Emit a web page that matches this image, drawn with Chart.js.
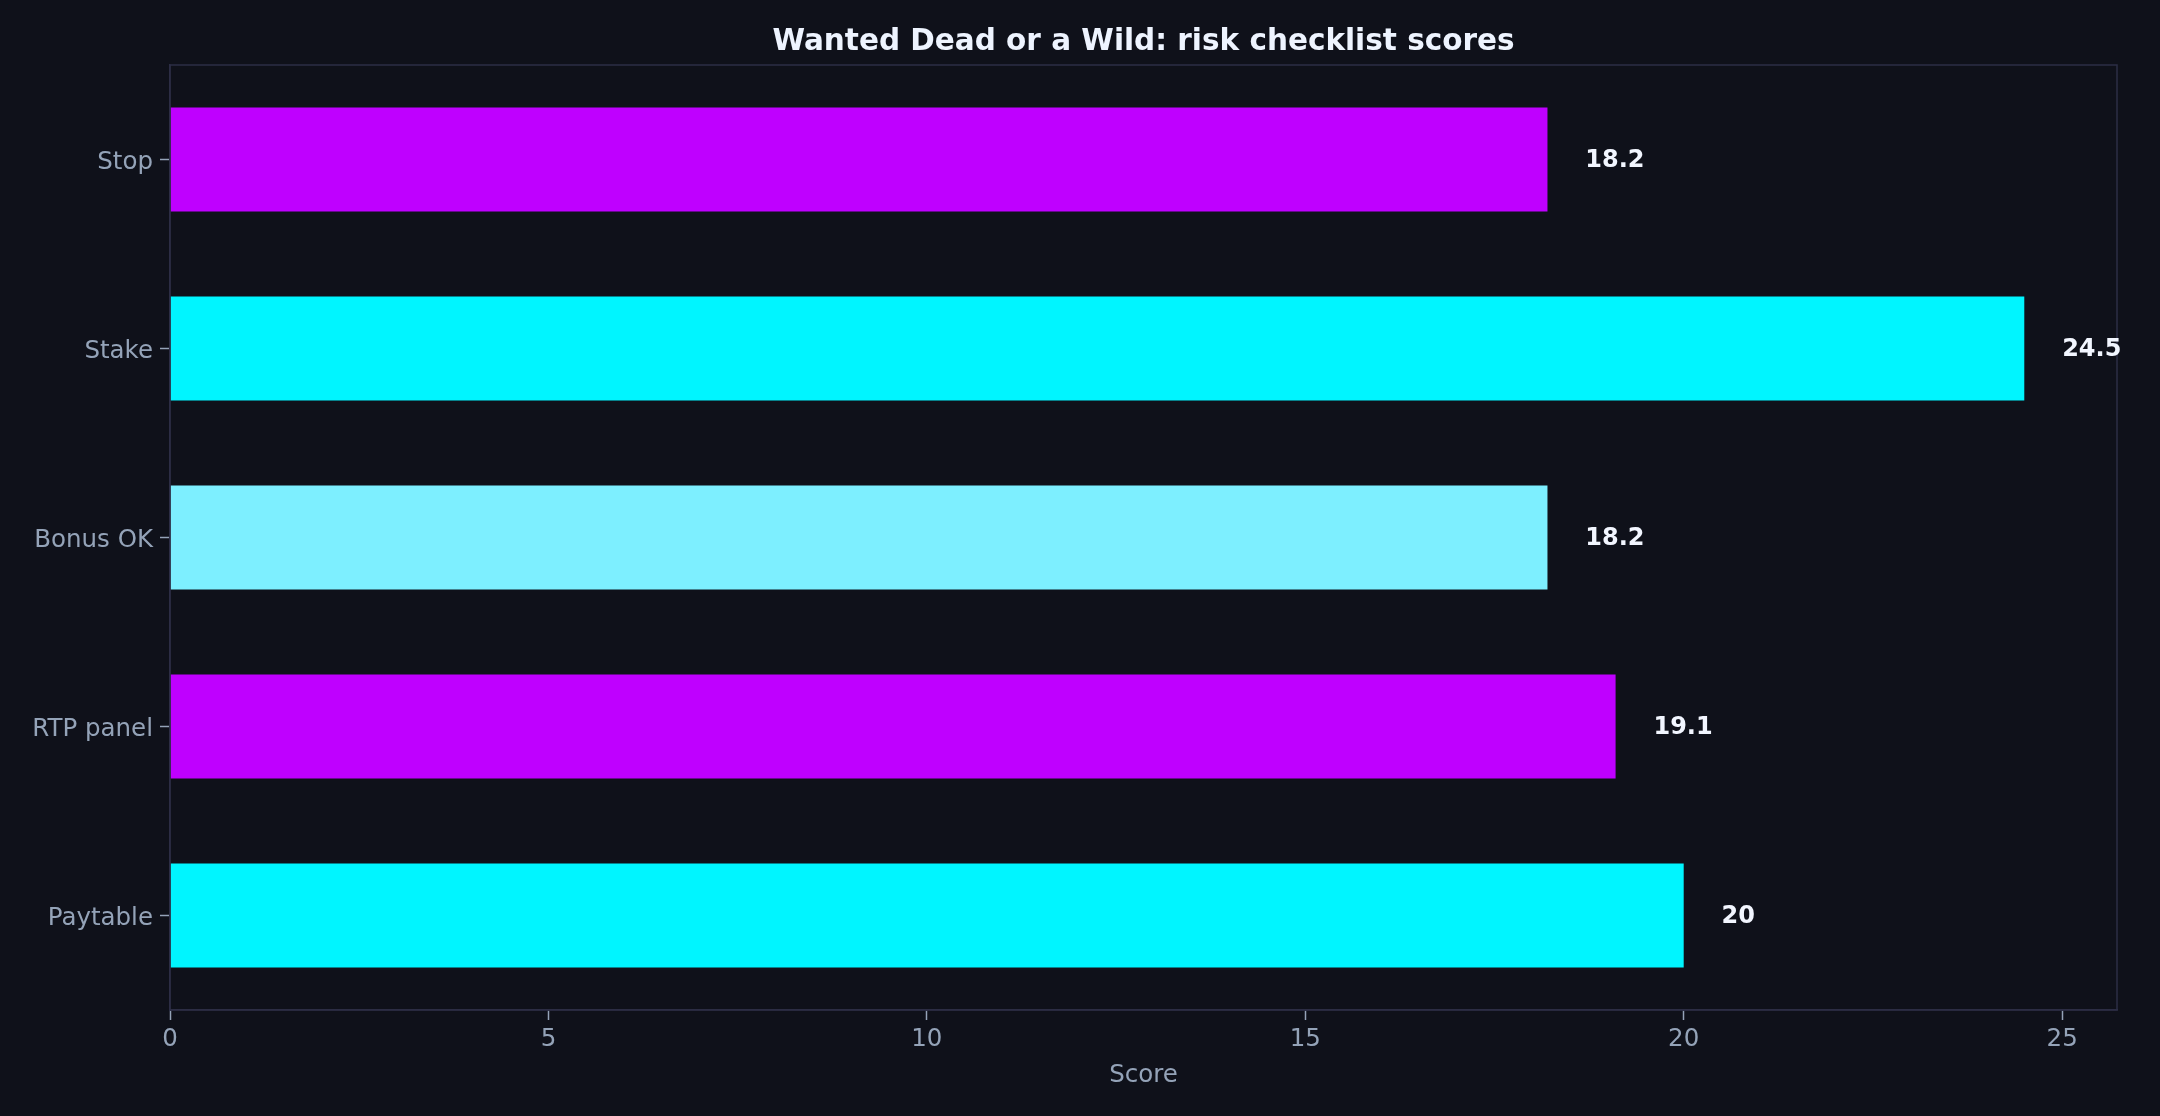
<!DOCTYPE html>
<html>
<head>
<meta charset="utf-8">
<script src="https://cdn.jsdelivr.net/npm/chart.js@4.4.1/dist/chart.umd.min.js"></script>
<style>
html,body{margin:0;padding:0;background:#0f111a;}
canvas{display:block;}
</style>
</head>
<body>
<canvas id="c" width="2160" height="1116"></canvas>
<script>
const categories = ["Stop", "Stake", "Bonus OK", "RTP panel", "Paytable"];
const scores = [18.2, 24.5, 18.2, 19.1, 20];
const valueLabels = ["18.2", "24.5", "18.2", "19.1", "20"];
const barColors = ["#bf00ff", "#00f5ff", "#7defff", "#bf00ff", "#00f5ff"];
const xTicks = [0, 5, 10, 15, 20, 25];

const BG = "#0f111a";
const SPINE = "#2c2e45";
const TICK = "#94a3b8";
const FONT = "'DejaVu Sans', sans-serif";

const bgPlugin = {
  id: "bg",
  beforeDraw(chart) {
    const ctx = chart.ctx;
    ctx.save();
    ctx.fillStyle = BG;
    ctx.fillRect(0, 0, chart.width, chart.height);
    ctx.restore();
  }
};

const framePlugin = {
  id: "frame",
  afterDatasetsDraw(chart) {
    const ctx = chart.ctx;
    const a = chart.chartArea;
    ctx.save();
    ctx.strokeStyle = SPINE;
    ctx.lineWidth = 1.5;
    ctx.strokeRect(a.left, a.top, a.right - a.left, a.bottom - a.top);
    // title
    ctx.fillStyle = "#eef4ff";
    ctx.font = "bold 29.5px " + FONT;
    ctx.textAlign = "center";
    ctx.textBaseline = "middle";
    ctx.fillText("Wanted Dead or a Wild: risk checklist scores", (a.left + a.right) / 2, 42.5);
    // value labels
    const xs = chart.scales.x;
    const meta = chart.getDatasetMeta(0);
    ctx.font = "bold 24px " + FONT;
    ctx.fillStyle = "#f2f6ff";
    ctx.textAlign = "left";
    meta.data.forEach((bar, i) => {
      ctx.fillText(valueLabels[i], xs.getPixelForValue(scores[i] + 0.5), bar.y + 1);
    });
    ctx.restore();
  }
};

new Chart(document.getElementById("c"), {
  type: "bar",
  data: {
    labels: categories,
    datasets: [{
      data: scores,
      backgroundColor: barColors,
      borderWidth: 0,
      barPercentage: 0.55,
      categoryPercentage: 1.0
    }]
  },
  options: {
    indexAxis: "y",
    responsive: false,
    animation: false,
    devicePixelRatio: 1,
    layout: { padding: { left: 0, right: 43, top: 65, bottom: 0 } },
    plugins: { legend: { display: false }, tooltip: { enabled: false }, title: { display: false } },
    scales: {
      x: {
        type: "linear",
        min: 0,
        max: 25.725,
        afterBuildTicks(scale) { scale.ticks = xTicks.map(v => ({ value: v })); },
        afterFit(scale) { scale.height = 106; },
        ticks: { color: TICK, font: { family: FONT, size: 24.5 }, padding: 5, includeBounds: false },
        grid: { drawOnChartArea: false, drawTicks: true, tickLength: 10, tickColor: TICK, tickWidth: 1.5, color: SPINE },
        border: { color: SPINE, width: 1.5 },
        title: { display: true, text: "Score", color: TICK, font: { family: FONT, size: 24.5 }, padding: { top: 0, bottom: 26 } }
      },
      y: {
        type: "category",
        offset: true,
        afterFit(scale) { scale.width = 170; },
        ticks: { color: TICK, font: { family: FONT, size: 24.5 }, padding: 7, labelOffset: 3 },
        grid: { drawOnChartArea: false, drawTicks: true, tickLength: 10, tickColor: TICK, tickWidth: 1.5, color: SPINE, offset: false },
        border: { color: SPINE, width: 1.5 }
      }
    }
  },
  plugins: [bgPlugin, framePlugin]
});
</script>
</body>
</html>
